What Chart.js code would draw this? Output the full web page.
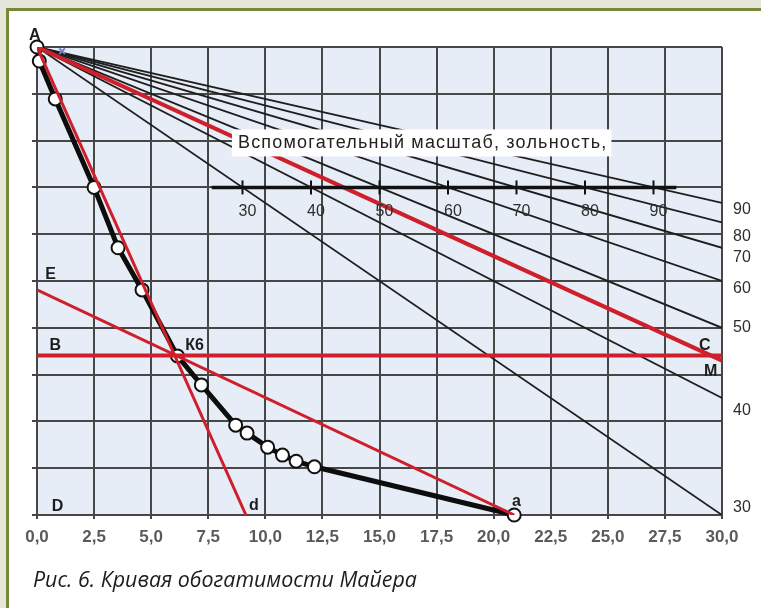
<!DOCTYPE html>
<html lang="ru">
<head>
<meta charset="utf-8">
<title>Кривая обогатимости Майера</title>
<script src="https://cdn.jsdelivr.net/npm/chart.js@4/dist/chart.umd.min.js"></script>
<style>
html,body{margin:0;padding:0;width:761px;height:608px;overflow:hidden;background:#e6e6da;}
#panel{position:absolute;left:6px;top:8px;width:755px;height:600px;box-sizing:border-box;border-left:3px solid #76883a;border-top:3px solid #76883a;background:#fff;}
#plot{position:absolute;left:0;top:0;}
#caption{position:absolute;left:33px;top:568px;font:italic 21.4px/21px "Open Sans",sans-serif;color:#1d1d1d;white-space:nowrap;}
</style>
</head>
<body>
<div id="panel"></div>
<canvas id="plot" width="761" height="608"></canvas>
<div id="caption">Рис. 6. Кривая обогатимости Майера</div>
<script>
// Axis ticks
const xTickValues = [0, 2.5, 5, 7.5, 10, 12.5, 15, 17.5, 20, 22.5, 25, 27.5, 30];
const xTickLabels = ['0,0', '2,5', '5,0', '7,5', '10,0', '12,5', '15,0', '17,5', '20,0', '22,5', '25,0', '27,5', '30,0'];
const yGridValues = [0, 10, 20, 30, 40, 50, 60, 70, 80, 90, 100];

// Mayer washability curve (ash·yield product vs cumulative yield)
const curveX = [0, 0.1, 0.8, 2.5, 3.55, 4.6, 6.15, 7.2, 8.7, 9.2, 10.1, 10.75, 11.35, 12.15, 20.9];
const curveY = [0, 3, 11.1, 30, 42.9, 51.9, 66, 72.2, 80.8, 82.5, 85.5, 87.2, 88.5, 89.7, 100];

// Ash-content fan from point A to the right edge
const fanAsh = ['30', '40', '50', '60', '70', '80', '90'];
const fanEndY = [100, 75, 60, 50, 42.9, 37.5, 33.3];
const fanLabelY = [98.5, 77.6, 60.0, 51.7, 45.1, 40.6, 34.8];

// Auxiliary ash scale
const scaleAsh = ['30', '40', '50', '60', '70', '80', '90'];
const scaleTickX = [9, 12, 15, 18, 21, 24, 27];
const scaleLineX = [7.65, 28.0];
const scaleLineY = [30, 30];
const auxTitle = 'Вспомогательный масштаб, зольность,';
const auxTitleX = 8.8;
const auxTitleY = 20.6;

// Construction lines
const acX = [0, 30];
const acY = [0, 67];
const bcX = [0, 30];
const bcY = [65.9, 65.9];
const eaX = [0, 20.9];
const eaY = [51.9, 100];
const adX = [0, 9.15];
const adY = [0, 100];

// Small marker next to A
const markX = [1.1];
const markY = [0.9];

// Point letters
const letterText = ['A', 'E', 'B', 'К6', 'C', 'M', 'D', 'd', 'a'];
const letterX = [-0.1, 0.6, 0.8, 6.9, 29.25, 29.5, 0.9, 9.5, 21.0];
const letterY = [-2.4, 48.7, 63.7, 63.7, 63.9, 69.4, 98.3, 97.9, 97.2];

const pts = (xs, ys) => xs.map((x, i) => ({x: x, y: ys[i]}));
const RED = '#cf1f2b';

const datasets = [];
datasets.push({data: pts(scaleLineX, scaleLineY), showLine: true, borderColor: '#111', borderWidth: 3.5, pointRadius: 0, order: 0});
datasets.push({data: scaleTickX.map(x => ({x: x, y: scaleLineY[0]})), showLine: false, pointStyle: 'line', rotation: 90,
  pointRadius: 7, pointBorderWidth: 2, pointBorderColor: '#111', order: 0});
datasets.push({data: pts(markX, markY), showLine: false, pointStyle: 'crossRot', pointRadius: 4, pointBorderWidth: 2,
  pointBorderColor: '#7183cf', order: 0, clip: false});
datasets.push({data: pts(acX, acY), showLine: true, borderColor: RED, borderWidth: 4, pointRadius: 0, order: 1});
datasets.push({data: pts(bcX, bcY), showLine: true, borderColor: RED, borderWidth: 4, pointRadius: 0, order: 1});
datasets.push({data: pts(eaX, eaY), showLine: true, borderColor: RED, borderWidth: 3, pointRadius: 0, order: 1});
datasets.push({data: pts(adX, adY), showLine: true, borderColor: RED, borderWidth: 3, pointRadius: 0, order: 1});
datasets.push({data: pts(curveX, curveY), showLine: true, borderColor: '#0d0d0d', borderWidth: 5,
  pointRadius: 6.5, pointBackgroundColor: '#fff', pointBorderColor: '#111', pointBorderWidth: 2, order: 3, clip: false});
fanEndY.forEach(y => {
  datasets.push({data: [{x: 0, y: 0}, {x: 30, y: y}], showLine: true, borderColor: '#1e1e1e', borderWidth: 1.8, pointRadius: 0, order: 5});
});

const overlay = {
  id: 'overlay',
  beforeDraw(chart) {
    const a = chart.chartArea, c = chart.ctx;
    c.save();
    c.fillStyle = '#e7edf7';
    c.fillRect(a.left, a.top, a.right - a.left, a.bottom - a.top);
    c.restore();
  },
  afterDatasetsDraw(chart) {
    const c = chart.ctx, sx = chart.scales.x, sy = chart.scales.y, a = chart.chartArea;
    c.save();
    // title of the auxiliary scale on a white plate
    c.font = '18px "Liberation Sans", Arial, sans-serif';
    c.letterSpacing = '1.2px';
    c.textBaseline = 'middle';
    c.textAlign = 'left';
    const tx = sx.getPixelForValue(auxTitleX), ty = sy.getPixelForValue(auxTitleY);
    const tw = c.measureText(auxTitle).width;
    c.fillStyle = '#fff';
    c.fillRect(tx - 6, ty - 14, tw + 10, 27);
    c.fillStyle = '#222';
    c.fillText(auxTitle, tx, ty);
    c.letterSpacing = '0px';

    // numbers under the auxiliary scale
    c.font = '16px "Liberation Sans", Arial, sans-serif';
    c.textAlign = 'center';
    c.fillStyle = '#2e2e2e';
    scaleAsh.forEach((t, i) => {
      c.fillText(t, sx.getPixelForValue(scaleTickX[i]) + 5, sy.getPixelForValue(scaleLineY[0]) + 24);
    });

    // ash labels at the right edge
    c.font = '16px "Liberation Sans", Arial, sans-serif';
    fanAsh.forEach((t, i) => {
      c.fillText(t, a.right + 20, sy.getPixelForValue(fanLabelY[i]));
    });

    // point letters
    c.font = 'bold 16px "Liberation Sans", Arial, sans-serif';
    c.fillStyle = '#1c1c1c';
    letterText.forEach((t, i) => {
      c.fillText(t, sx.getPixelForValue(letterX[i]), sy.getPixelForValue(letterY[i]));
    });
    c.restore();
  }
};

const gridColor = '#474747';
new Chart(document.getElementById('plot'), {
  type: 'scatter',
  data: {datasets: datasets},
  options: {
    responsive: false,
    animation: false,
    events: [],
    layout: {padding: {left: 32, top: 47, right: 39, bottom: 0}},
    plugins: {legend: {display: false}, tooltip: {enabled: false}},
    scales: {
      x: {
        type: 'linear', min: 0, max: 30,
        afterBuildTicks: s => { s.ticks = xTickValues.map(v => ({value: v})); },
        afterFit: s => { s.height = 93; },
        ticks: {autoSkip: false, maxRotation: 0, padding: 8, color: '#5a5a5a',
          font: {family: '"Liberation Sans", Arial, sans-serif', size: 17, weight: 'bold'},
          callback: (v, i) => xTickLabels[i]},
        grid: {color: gridColor, lineWidth: 2, tickLength: 4},
        border: {color: gridColor, width: 2}
      },
      y: {
        type: 'linear', reverse: true, min: 0, max: 100,
        afterBuildTicks: s => { s.ticks = yGridValues.map(v => ({value: v})); },
        afterFit: s => { s.width = 5; },
        ticks: {display: false},
        grid: {color: gridColor, lineWidth: 2, tickLength: 5},
        border: {color: gridColor, width: 2}
      }
    }
  },
  plugins: [overlay]
});
</script>
</body>
</html>
